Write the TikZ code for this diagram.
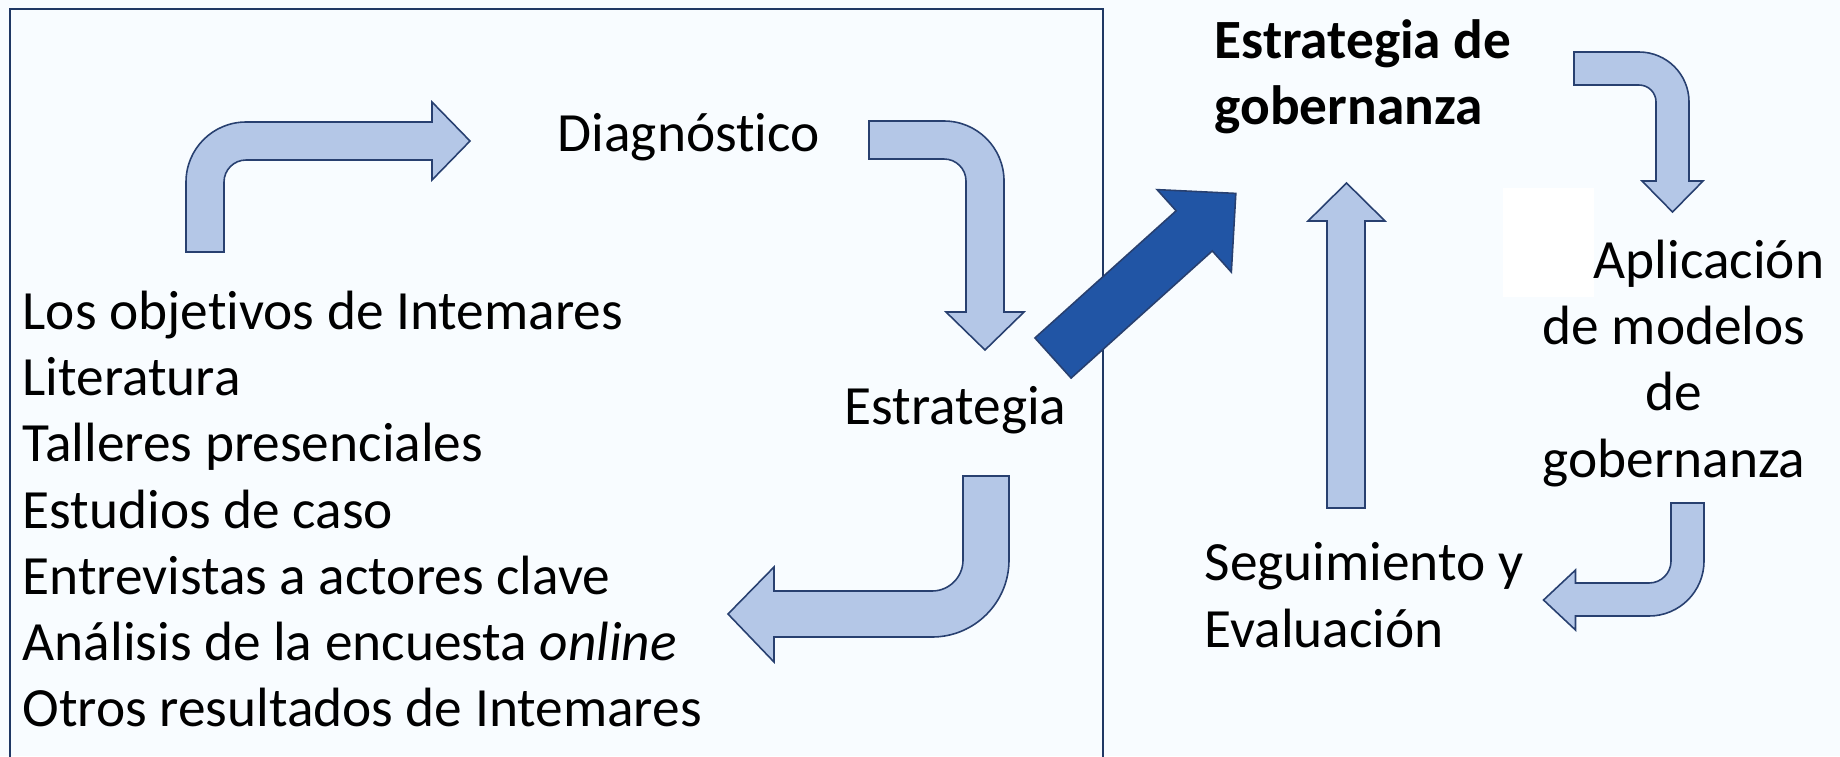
\documentclass[tikz,border=0pt]{standalone}
\usepackage{fontspec}
\setmainfont{Carlito}[Ligatures=NoCommon]
\definecolor{bgcol}{RGB}{248,252,255}
\definecolor{framecol}{RGB}{31,56,100}
\definecolor{arrowline}{RGB}{40,64,112}
\definecolor{arrowfill}{RGB}{180,199,231}
\definecolor{bigfill}{RGB}{33,85,165}
\begin{document}
\begin{tikzpicture}[
lightarrow/.style={draw=arrowline,fill=arrowfill,line width=0.45pt},
bigarrow/.style={draw=arrowline,fill=bigfill,line width=0.45pt},
txt/.style={inner sep=0pt,font=\fontsize{15.75}{18.8}\selectfont}]

\useasboundingbox (0,0) rectangle (18.4,-7.56);
\fill[bgcol] (0,0) rectangle (18.4,-7.56);
\fill[white] (15.03,-1.88) rectangle (15.94,-2.97);
\draw[framecol,line width=0.75pt] (0.10,-0.09) rectangle (11.03,-7.80);

% texts
\node[txt,anchor=base west] (diag) at (5.57,-1.51) {Diagnóstico};
\node[txt,anchor=base west] (estr) at (8.44,-4.24) {Estrategia};
\foreach \txt [count=\i] in {Los objetivos de Intemares,Literatura,Talleres presenciales,Estudios de caso,Entrevistas a actores clave,{Análisis de la encuesta \textit{online}},Otros resultados de Intemares}
  \node[txt,anchor=base west] (src\i) at (0.22,{-3.294-0.662*(\i-1)}) {\txt};
\node[txt,anchor=base west,align=left,font=\fontsize{15.75}{18.5}\selectfont\bfseries] (gob) at (12.14,-1.24) {Estrategia de\\gobernanza};
\node[txt,anchor=base,align=center] (apl) at (16.74,-4.77) {\hspace*{0.7cm}Aplicación\\de modelos\\de\\gobernanza};
\node[txt,anchor=base west,align=left] (seg) at (12.04,-6.47) {Seguimiento y\\Evaluación};

% arrows inside the frame
\draw[lightarrow] (1.86,-2.52) -- (1.86,-1.82) arc[start angle=180,end angle=90,radius=0.60]
  -- (4.32,-1.22) -- (4.32,-1.02) -- (4.70,-1.41) -- (4.32,-1.80) -- (4.32,-1.60) -- (2.46,-1.60)
  arc[start angle=90,end angle=180,radius=0.22] -- (2.24,-2.52) -- cycle;
\draw[lightarrow] (8.69,-1.21) -- (9.44,-1.21) arc[start angle=90,end angle=0,radius=0.60]
  -- (10.04,-3.12) -- (10.24,-3.12) -- (9.85,-3.50) -- (9.46,-3.12) -- (9.66,-3.12) -- (9.66,-1.81)
  arc[start angle=0,end angle=90,radius=0.22] -- (8.69,-1.59) -- cycle;
\draw[lightarrow] (9.63,-4.76) -- (10.09,-4.76) -- (10.09,-5.60) arc[start angle=0,end angle=-90,radius=0.77]
  -- (7.74,-6.37) -- (7.74,-6.62) -- (7.28,-6.14) -- (7.74,-5.67) -- (7.74,-5.91) -- (9.32,-5.91)
  arc[start angle=-90,end angle=0,radius=0.31] -- cycle;

% big arrow out of the frame
\begin{scope}[shift={(10.53,-3.58)},rotate=42]
\draw[bigarrow] (0,-0.27) -- (1.90,-0.27) -- (1.90,-0.555) -- (2.46,0) -- (1.90,0.555) -- (1.90,0.27) -- (0,0.27) -- cycle;
\end{scope}

% cycle on the right
\draw[lightarrow] (13.27,-5.08) -- (13.27,-2.21) -- (13.08,-2.21) -- (13.465,-1.83) -- (13.85,-2.21) -- (13.65,-2.21) -- (13.65,-5.08) -- cycle;
\draw[lightarrow] (15.74,-0.52) -- (16.39,-0.52) arc[start angle=90,end angle=0,radius=0.50]
  -- (16.89,-1.81) -- (17.03,-1.81) -- (16.725,-2.12) -- (16.42,-1.81) -- (16.56,-1.81) -- (16.56,-1.02)
  arc[start angle=0,end angle=90,radius=0.17] -- (15.74,-0.85) -- cycle;
\draw[lightarrow] (16.71,-5.03) -- (17.04,-5.03) -- (17.04,-5.61) arc[start angle=0,end angle=-90,radius=0.55]
  -- (15.755,-6.16) -- (15.755,-6.30) -- (15.435,-6.00) -- (15.755,-5.70) -- (15.755,-5.83) -- (16.49,-5.83)
  arc[start angle=-90,end angle=0,radius=0.22] -- cycle;

\end{tikzpicture}
\end{document}
